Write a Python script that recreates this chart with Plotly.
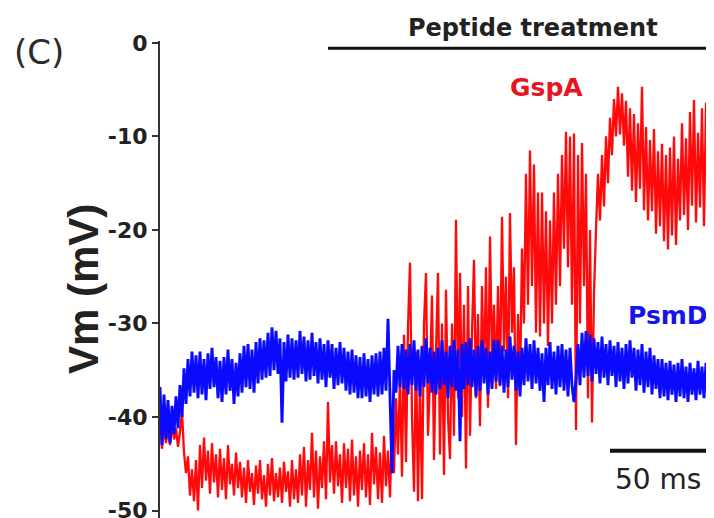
import numpy as np
import plotly.graph_objects as go

# ---------------- data ----------------
SAMPLE_MS = 1.0  # sampling interval of the traces, ms

# Membrane potential, mV, GspA-treated cell (red)
gspa_vm = [
    -40.0, -43.4, -40.6, -42.8, -41.0, -43.0, -40.8, -42.4, -41.2, -43.2,
    -41.6, -39.4, -43.8, -46.0, -44.2, -48.4, -45.6, -49.0, -44.6, -50.0,
    -43.0, -47.6, -42.2, -46.8, -43.6, -48.2, -42.8, -47.0, -44.0, -48.6,
    -43.4, -47.8, -44.4, -48.8, -43.0, -47.2, -45.0, -48.4, -43.8, -47.6,
    -44.8, -48.6, -45.4, -49.2, -44.6, -48.0, -46.0, -49.4, -45.2, -48.2,
    -44.6, -48.8, -46.2, -49.6, -45.0, -48.4, -44.4, -49.0, -46.0, -48.6,
    -45.4, -49.2, -44.8, -48.0, -45.8, -49.6, -44.6, -48.8, -45.6, -49.2,
    -44.0, -48.4, -43.2, -49.6, -44.6, -47.8, -41.7, -48.6, -43.6, -49.8,
    -44.2, -47.6, -42.6, -48.8, -38.4, -47.0, -43.0, -48.2, -42.6, -47.4,
    -44.0, -49.2, -42.8, -47.6, -43.4, -49.0, -42.4, -48.4, -44.2, -49.6,
    -43.6, -47.8, -42.8, -48.6, -44.0, -49.4, -41.7, -47.2, -43.2, -48.8,
    -43.8, -49.2, -42.0, -47.4, -43.6, -48.6, -41.0, -46.0, -38.0, -44.0,
    -35.6, -46.4, -31.2, -44.8, -30.4, -23.5, -40.0, -48.0, -33.0, -49.0,
    -36.0, -48.8, -30.0, -24.6, -42.0, -36.0, -27.0, -44.6, -33.0, -24.6,
    -44.0, -30.0, -46.2, -26.4, -40.0, -44.5, -30.0, -42.0, -18.9, -38.0,
    -24.6, -40.0, -28.0, -45.5, -26.0, -42.0, -31.0, -23.2, -38.0, -29.0,
    -41.0, -26.0, -36.0, -24.0, -39.0, -20.7, -34.0, -28.0, -37.0, -26.0,
    -36.7, -18.6, -33.0, -25.0, -38.0, -18.2, -31.0, -24.0, -43.0, -29.0,
    -37.0, -22.0, -30.0, -14.0, -28.0, -11.5, -26.0, -13.0, -31.0, -16.0,
    -31.4, -16.0, -30.0, -18.0, -32.4, -19.0, -30.0, -16.0, -28.0, -14.0,
    -26.0, -12.0, -22.0, -9.5, -24.0, -10.0, -28.0, -9.7, -41.4, -12.0,
    -30.0, -10.7, -26.0, -14.0, -38.0, -20.0, -40.6, -26.8, -20.0, -14.0,
    -19.0, -12.0, -17.5, -10.0, -15.0, -8.0, -12.0, -6.0, -10.0, -4.7,
    -9.8, -5.4, -11.0, -6.2, -14.3, -7.0, -15.8, -7.6, -17.0, -8.6,
    -15.6, -4.7, -17.9, -9.0, -19.0, -10.4, -18.0, -9.2, -20.4, -11.6,
    -19.6, -10.8, -21.2, -12.0, -22.1, -11.2, -20.6, -10.0, -21.6, -12.4,
    -19.0, -8.6, -18.4, -10.2, -20.0, -7.4, -17.4, -6.1, -19.2, -9.6,
    -17.6, -7.0, -19.6, -6.4, -16.8, -9.8,
]

# Membrane potential, mV, PsmD-treated cell (blue)
psmd_vm = [
    -36.8, -43.0, -37.6, -42.4, -38.2, -42.8, -38.8, -41.8, -37.8, -41.2,
    -36.6, -40.0, -34.8, -38.6, -33.8, -37.8, -33.0, -37.4, -33.4, -38.0,
    -33.0, -37.6, -33.8, -38.2, -33.2, -37.0, -32.6, -36.8, -33.6, -38.0,
    -34.0, -38.4, -33.6, -37.6, -32.8, -37.2, -33.8, -38.6, -34.2, -37.8,
    -33.2, -37.4, -32.4, -36.8, -32.2, -37.0, -32.8, -37.4, -32.0, -36.4,
    -31.6, -36.0, -31.8, -35.8, -31.0, -35.6, -30.4, -35.0, -30.8, -35.4,
    -31.6, -40.6, -32.0, -36.2, -31.2, -35.8, -31.6, -36.0, -31.8, -35.8,
    -30.8, -35.4, -31.4, -36.2, -31.8, -36.0, -31.0, -35.6, -32.0, -36.4,
    -31.6, -36.0, -32.2, -36.8, -31.8, -35.8, -32.2, -37.0, -32.6, -36.6,
    -32.0, -36.4, -32.6, -37.2, -33.0, -37.6, -32.8, -37.4, -33.4, -38.0,
    -33.6, -38.0, -33.2, -37.8, -33.8, -38.4, -33.4, -37.6, -33.2, -37.8,
    -33.0, -37.6, -32.6, -37.2, -29.5, -37.0, -46.0, -35.0, -37.4, -32.4,
    -36.8, -32.2, -37.0, -32.8, -37.6, -32.2, -36.6, -31.8, -37.2, -32.8,
    -37.8, -32.4, -36.8, -31.6, -36.4, -32.6, -37.4, -33.0, -37.6, -32.6,
    -37.0, -31.8, -36.6, -33.0, -38.0, -32.4, -36.8, -31.8, -37.2, -32.8,
    -42.6, -32.2, -37.0, -32.0, -36.6, -31.6, -36.8, -32.8, -37.8, -32.4,
    -37.2, -31.8, -36.4, -32.6, -37.6, -33.0, -37.0, -31.8, -36.2, -31.8,
    -36.6, -32.4, -37.4, -32.8, -36.8, -31.4, -36.0, -32.4, -37.2, -33.0,
    -37.8, -32.6, -36.6, -31.6, -36.2, -32.2, -37.0, -31.8, -36.4, -32.6,
    -37.2, -33.2, -38.4, -32.6, -36.6, -32.0, -37.0, -33.0, -37.6, -32.4,
    -36.8, -32.2, -37.2, -32.8, -37.8, -32.6, -36.6, -38.4, -36.0, -32.2,
    -36.6, -31.0, -35.8, -30.8, -35.6, -31.2, -36.2, -31.6, -35.4, -32.0,
    -36.4, -31.4, -35.8, -32.2, -36.6, -31.8, -35.6, -32.4, -36.8, -32.0,
    -36.2, -32.6, -37.0, -32.2, -36.4, -31.8, -35.8, -32.6, -37.2, -32.8,
    -36.6, -32.2, -37.4, -33.0, -36.8, -32.6, -37.6, -33.4, -37.0, -33.8,
    -38.0, -33.8, -37.8, -34.2, -38.2, -34.0, -37.6, -34.4, -38.4, -34.2,
    -37.8, -33.8, -38.0, -34.6, -38.4, -34.2, -37.6, -34.8, -38.2, -34.0,
    -37.6, -34.6, -38.0, -34.2, -37.8, -34.8,
]

Y_TICKS = [0, -10, -20, -30, -40, -50]
Y_TICK_LABELS = ["0", "-10", "-20", "-30", "-40", "-50"]

PEPTIDE_START_MS = 84      # start of peptide treatment bar
SCALE_BAR_START_MS = 225   # scale bar start
SCALE_BAR_MS = 50          # scale bar length
SCALE_BAR_VM = -43.6       # vertical position of scale bar

# ---------------- figure ----------------
# The page body has an 8 px margin, so the figure is 8 px smaller
t_gspa = np.arange(len(gspa_vm)) * SAMPLE_MS
t_psmd = np.arange(len(psmd_vm)) * SAMPLE_MS
X_MAX = 277

fig = go.Figure()
fig.add_trace(go.Scatter(x=t_gspa, y=gspa_vm, mode="lines",
                         line=dict(color="#ff0a0a", width=2.3),
                         name="GspA", showlegend=False, hoverinfo="skip"))
fig.add_trace(go.Scatter(x=t_psmd, y=psmd_vm, mode="lines",
                         line=dict(color="#0a0aff", width=2.9),
                         name="PsmD", showlegend=False, hoverinfo="skip"))

# peptide treatment bar
fig.add_shape(type="line", xref="x", yref="paper",
              x0=PEPTIDE_START_MS, x1=X_MAX, y0=0.985, y1=0.985,
              line=dict(color="#111111", width=3))
# scale bar
fig.add_shape(type="line", xref="x", yref="y",
              x0=SCALE_BAR_START_MS, x1=SCALE_BAR_START_MS + SCALE_BAR_MS,
              y0=SCALE_BAR_VM, y1=SCALE_BAR_VM,
              line=dict(color="#111111", width=4))

ann_font = "DejaVu Sans"
fig.add_annotation(text="Peptide treatment", xref="paper", yref="paper",
                   x=0.673, y=1.027, showarrow=False, xanchor="center", yanchor="middle",
                   font=dict(family=ann_font, size=24, color="#222222", weight="bold"))
fig.add_annotation(text="(C)", xref="paper", yref="paper",
                   x=-0.2184, y=0.977, showarrow=False, xanchor="center", yanchor="middle",
                   font=dict(family=ann_font, size=34, color="#2b2b2b"))
fig.add_annotation(text="Vm (mV)", xref="paper", yref="paper",
                   x=-0.139, y=0.48, showarrow=False, textangle=-90,
                   xanchor="center", yanchor="middle",
                   font=dict(family="Liberation Sans", size=42, color="#222222", weight="bold"))
fig.add_annotation(text="GspA", xref="x", yref="y", x=193, y=-4.8, showarrow=False,
                   xanchor="center", yanchor="middle",
                   font=dict(family=ann_font, size=25, color="#e8141e", weight="bold"))
fig.add_annotation(text="PsmD", xref="x", yref="y", x=254, y=-29.1, showarrow=False,
                   xanchor="center", yanchor="middle",
                   font=dict(family=ann_font, size=25, color="#1414ee", weight="bold"))
fig.add_annotation(text="%d ms" % SCALE_BAR_MS, xref="x", yref="y",
                   x=SCALE_BAR_START_MS + SCALE_BAR_MS / 2 - 1, y=-46.7, showarrow=False,
                   xanchor="center", yanchor="middle",
                   font=dict(family=ann_font, size=28, color="#222222"))

fig.update_xaxes(visible=False, range=[0, X_MAX], fixedrange=True, automargin=False)
fig.update_yaxes(range=[-50.8, 0.2], showgrid=False, zeroline=False, automargin=False,
                 showline=True, linecolor="#333333", linewidth=2,
                 ticks="outside", ticklen=6, tickwidth=2, tickcolor="#333333",
                 tickvals=Y_TICKS, ticktext=Y_TICK_LABELS, ticklabeloverflow="allow",
                 tickfont=dict(family="DejaVu Sans", size=22, color="#222222", weight="bold"))

fig.update_layout(width=706, height=510,
                  margin=dict(l=152, r=0, t=33, b=0, pad=0, autoexpand=False),
                  paper_bgcolor="white", plot_bgcolor="white",
                  showlegend=False)

fig.write_html("out.html")
